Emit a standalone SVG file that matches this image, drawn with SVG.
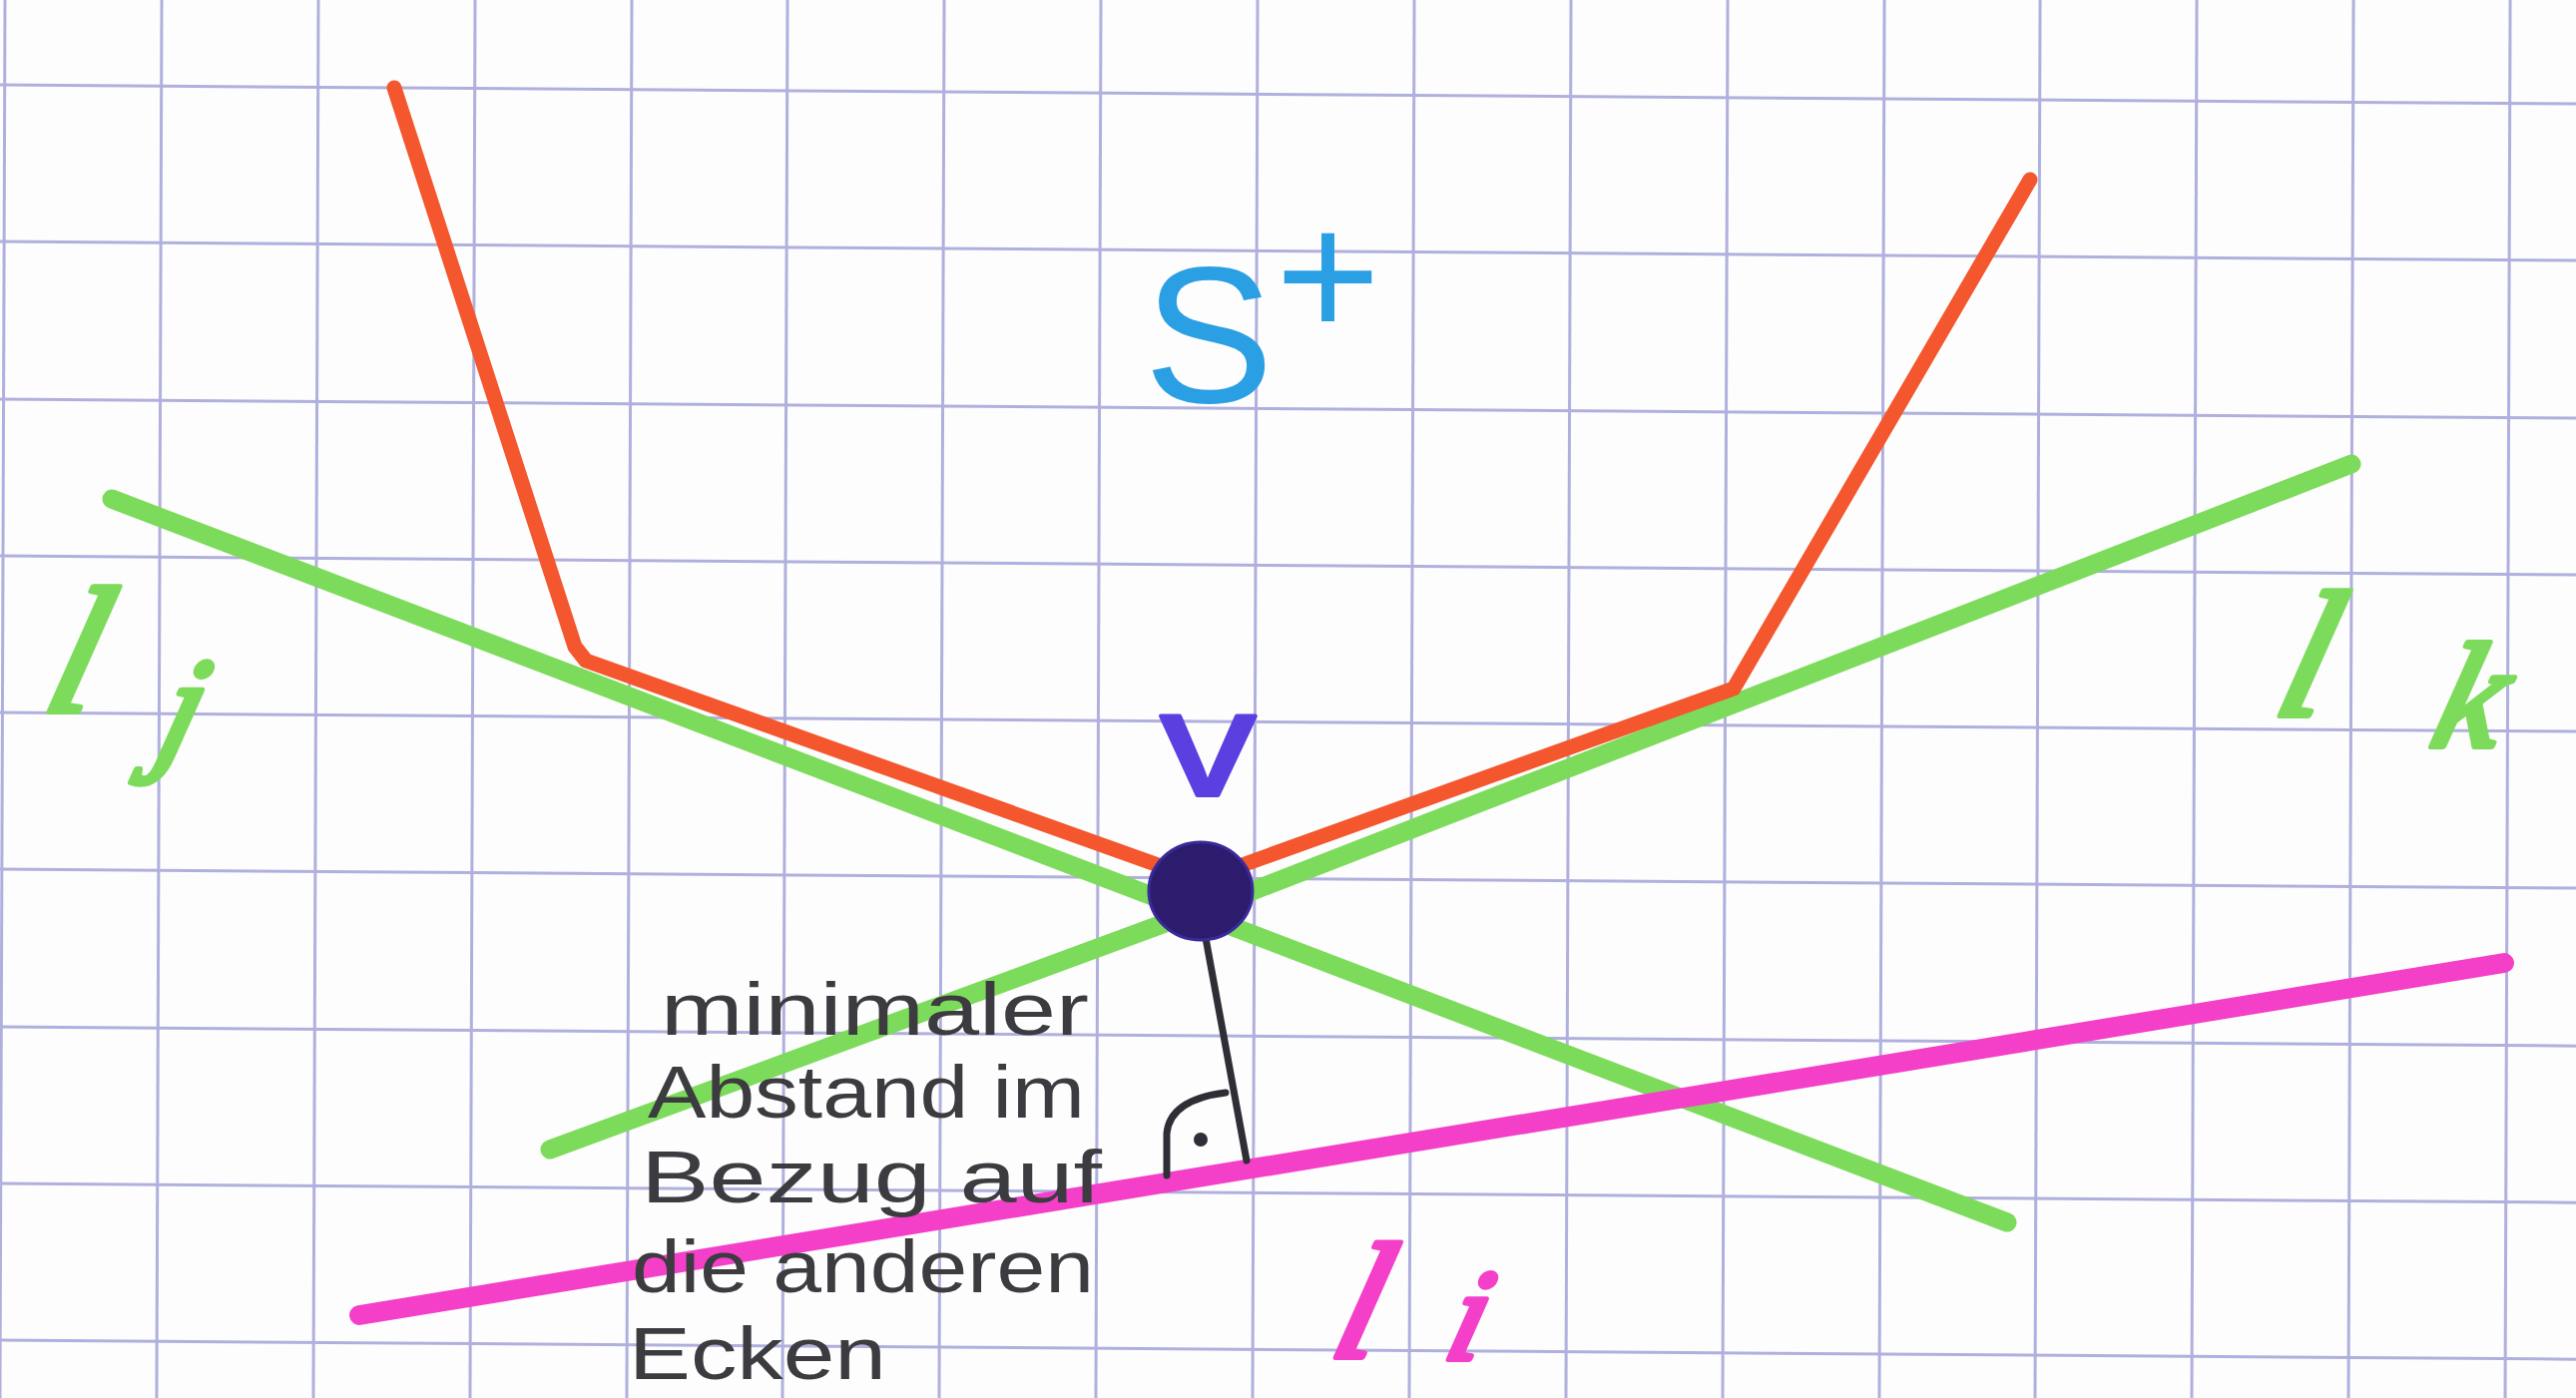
<svg xmlns="http://www.w3.org/2000/svg" width="2581" height="1401" viewBox="0 0 2581 1401">
<style>
  .grid line { stroke: #b0b0de; stroke-width: 3; }
  .edge { fill: none; stroke-linecap: round; stroke-linejoin: round; }
  .green { stroke: #7ddb5b; stroke-width: 19; }
  .red { stroke: #f4562e; stroke-width: 15; }
  .pink { stroke: #f43fc9; stroke-width: 20; }
  .perp { stroke: #2e2e36; stroke-width: 7; fill: none; stroke-linecap: round; }
  .note { font-family: "Liberation Sans", "DejaVu Sans", sans-serif; font-size: 74px; fill: #3c3c40; }
  .cur { font-family: "Liberation Serif", "DejaVu Serif", serif; font-style: italic; stroke-width: 6; stroke-linejoin: round; }
  .gl { fill: #7ddb5b; stroke: #7ddb5b; }
  .pl { fill: #f43fc9; stroke: #f43fc9; }
</style>
<rect x="0" y="0" width="2581" height="1401" fill="#fdfdfd"/>
<g class="grid" transform="matrix(1 0.0074 -0.0036 1 0 0)">
  <line x1="5" y1="-30" x2="5" y2="1430"/>
  <line x1="162" y1="-30" x2="162" y2="1430"/>
  <line x1="319" y1="-30" x2="319" y2="1430"/>
  <line x1="476" y1="-30" x2="476" y2="1430"/>
  <line x1="633" y1="-30" x2="633" y2="1430"/>
  <line x1="789" y1="-30" x2="789" y2="1430"/>
  <line x1="946" y1="-30" x2="946" y2="1430"/>
  <line x1="1103" y1="-30" x2="1103" y2="1430"/>
  <line x1="1260" y1="-30" x2="1260" y2="1430"/>
  <line x1="1417" y1="-30" x2="1417" y2="1430"/>
  <line x1="1574" y1="-30" x2="1574" y2="1430"/>
  <line x1="1731" y1="-30" x2="1731" y2="1430"/>
  <line x1="1888" y1="-30" x2="1888" y2="1430"/>
  <line x1="2044" y1="-30" x2="2044" y2="1430"/>
  <line x1="2201" y1="-30" x2="2201" y2="1430"/>
  <line x1="2358" y1="-30" x2="2358" y2="1430"/>
  <line x1="2515" y1="-30" x2="2515" y2="1430"/>
  <line x1="-30" y1="85" x2="2620" y2="85"/>
  <line x1="-30" y1="242" x2="2620" y2="242"/>
  <line x1="-30" y1="400" x2="2620" y2="400"/>
  <line x1="-30" y1="557" x2="2620" y2="557"/>
  <line x1="-30" y1="714" x2="2620" y2="714"/>
  <line x1="-30" y1="871" x2="2620" y2="871"/>
  <line x1="-30" y1="1029" x2="2620" y2="1029"/>
  <line x1="-30" y1="1186" x2="2620" y2="1186"/>
  <line x1="-30" y1="1343" x2="2620" y2="1343"/>
</g>
<g id="connectors">
  <line id="edge-lj" class="edge green" x1="112" y1="500" x2="2011" y2="1225"/>
  <polyline id="edge-lk" class="edge green" points="551,1152 1257,892 2356,465"/>
  <polyline id="edge-red-left" class="edge red" points="395,88 576,648 587,662 1180,874"/>
  <polyline id="edge-red-right" class="edge red" points="1225,874 1737,690 2034,180"/>
  <line id="edge-li" class="edge pink" x1="360" y1="1318" x2="2509" y2="965"/>
  <line id="edge-perp" class="perp" x1="1208" y1="940" x2="1249" y2="1163"/>
  <path id="right-angle" class="perp" d="M1169,1178 L1169,1136 Q1172,1102 1228,1095"/>
  <circle cx="1203" cy="1142" r="7" fill="#2e2e36"/>
</g>
<g id="node-v">
  <ellipse cx="1203" cy="893" rx="52" ry="49" fill="#2d1b6e" stroke="#3b2a9a" stroke-width="3"/>
  <text x="1163" y="797" font-family="Liberation Sans, sans-serif" font-size="150" fill="#5b3fe0" stroke="#5b3fe0" stroke-width="4" stroke-linejoin="round" textLength="95" lengthAdjust="spacingAndGlyphs">v</text>
</g>
<g id="label-s-plus">
  <text x="1146" y="403" font-family="Liberation Sans, sans-serif" font-size="195" fill="#2b9fe3">S</text>
  <text x="1278" y="338" font-family="Liberation Sans, sans-serif" font-size="180" fill="#2b9fe3">+</text>
</g>
<g id="label-lj">
  <text class="cur gl" transform="translate(40,713) skewX(-15)" font-size="180">l<tspan x="125" y="43" font-size="140">j</tspan></text>
</g>
<g id="label-lk">
  <text class="cur gl" transform="translate(2275,717) skewX(-15)" font-size="180">l<tspan x="165" y="31" font-size="150">k</tspan></text>
</g>
<g id="label-li">
  <text class="cur pl" transform="translate(1330,1360) skewX(-15)" font-size="165">l<tspan x="115" y="2" font-size="130">i</tspan></text>
</g>
<g id="note">
  <text class="note" x="662" y="1037" textLength="429" lengthAdjust="spacingAndGlyphs">minimaler</text>
  <text class="note" x="649" y="1120" textLength="438" lengthAdjust="spacingAndGlyphs">Abstand im</text>
  <text class="note" x="642" y="1205" textLength="462" lengthAdjust="spacingAndGlyphs">Bezug auf</text>
  <text class="note" x="633" y="1295" textLength="463" lengthAdjust="spacingAndGlyphs">die anderen</text>
  <text class="note" x="630" y="1382" textLength="258" lengthAdjust="spacingAndGlyphs">Ecken</text>
</g>
</svg>
